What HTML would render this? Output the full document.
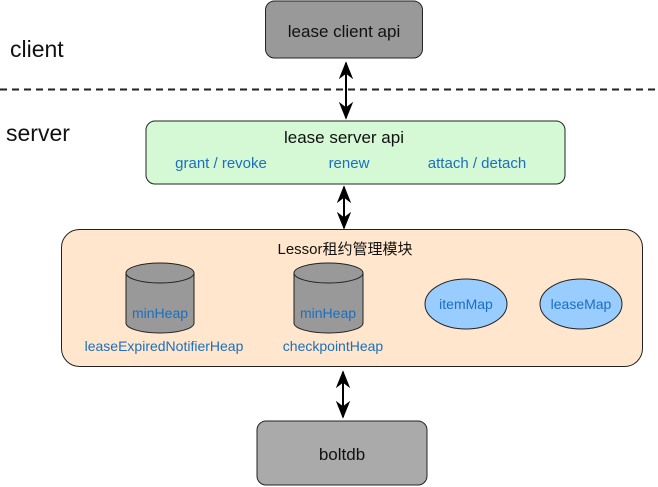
<!DOCTYPE html>
<html><head><meta charset="utf-8"><style>html,body{margin:0;padding:0;background:#fff}svg{display:block}</style></head>
<body>
<svg width="658" height="487" viewBox="0 0 658 487" xmlns="http://www.w3.org/2000/svg" font-family="Liberation Sans, Noto Sans CJK SC, sans-serif">
<defs>
<marker id="a" viewBox="0 0 10 10" refX="9" refY="5" markerWidth="9" markerHeight="9" orient="auto-start-reverse"><path d="M0,1 L10,5 L0,9 L3,5 Z" fill="#000"/></marker>
</defs>
<rect x="265.5" y="1" width="157" height="57" rx="9" fill="#999999" stroke="#222" stroke-width="1"/>
<text x="344" y="37" font-size="17" text-anchor="middle" fill="#111">lease client api</text>
<text x="10" y="57" font-size="23" fill="#111">client</text>
<text x="6" y="141" font-size="23" fill="#111">server</text>
<line x1="0" y1="89.5" x2="658" y2="89.5" stroke="#222" stroke-width="2" stroke-dasharray="7,5"/>
<line x1="346" y1="63" x2="346" y2="118" stroke="#000" stroke-width="2" marker-start="url(#a)" marker-end="url(#a)"/>
<rect x="146" y="121" width="419" height="63" rx="9" fill="#d5f9d5" stroke="#222" stroke-width="1"/>
<text x="344" y="143" font-size="17" text-anchor="middle" fill="#111">lease server api</text>
<g font-size="15" fill="#1a6fc0" text-anchor="middle">
<text x="221" y="168">grant / revoke</text>
<text x="349" y="168">renew</text>
<text x="477" y="168">attach / detach</text>
</g>
<line x1="344" y1="187" x2="344" y2="228" stroke="#000" stroke-width="2" marker-start="url(#a)" marker-end="url(#a)"/>
<rect x="61.5" y="229.5" width="581" height="137" rx="18" fill="#ffe6cc" stroke="#222" stroke-width="1"/>
<text x="345" y="254" font-size="15" text-anchor="middle" fill="#111">Lessor租约管理模块</text>
<g stroke="#222" stroke-width="1" fill="#999999">
<path d="M126,273 A34,10 0 0 1 194,273 L194,323 A34,10 0 0 1 126,323 Z"/>
<path d="M126,273 A34,10 0 0 0 194,273"/>
<path d="M294,273 A34.5,10 0 0 1 363,273 L363,323 A34.5,10 0 0 1 294,323 Z"/>
<path d="M294,273 A34.5,10 0 0 0 363,273"/>
<ellipse cx="466" cy="304" rx="41" ry="25" fill="#99ccff"/>
<ellipse cx="581" cy="304" rx="41" ry="25" fill="#99ccff"/>
</g>
<g font-size="14" fill="#1a6fc0" text-anchor="middle">
<text x="160" y="318">minHeap</text>
<text x="328" y="318">minHeap</text>
<text x="164" y="351">leaseExpiredNotifierHeap</text>
<text x="333" y="351">checkpointHeap</text>
<text x="466" y="309">itemMap</text>
<text x="581" y="309">leaseMap</text>
</g>
<line x1="343" y1="372" x2="343" y2="417" stroke="#000" stroke-width="2" marker-start="url(#a)" marker-end="url(#a)"/>
<rect x="257" y="421" width="170" height="64" rx="9" fill="#aaaaaa" stroke="#222" stroke-width="1"/>
<text x="342" y="460" font-size="17" text-anchor="middle" fill="#111">boltdb</text>
</svg>
</body></html>
